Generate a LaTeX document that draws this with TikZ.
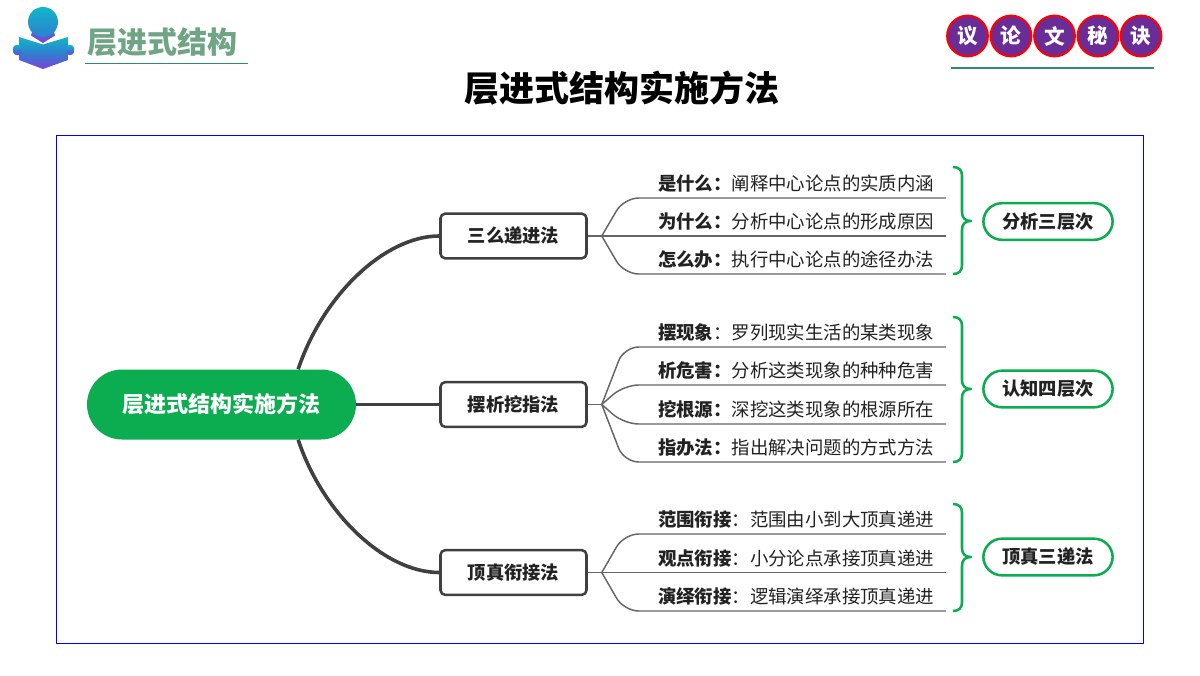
\documentclass[tikz,border=0pt]{standalone}
\usepackage{fontspec}
\usetikzlibrary{calc}
\setmainfont{Noto Sans CJK SC}
\definecolor{mmgreen}{HTML}{0BAD50}
\definecolor{trunk}{HTML}{404040}
\definecolor{twigc}{HTML}{666666}
\definecolor{titlegreen}{HTML}{6FA584}
\definecolor{seal}{HTML}{6A2C96}
\definecolor{rulegreen}{HTML}{2E8B6B}
\definecolor{lgA}{HTML}{10B6C8}
\definecolor{lgB}{HTML}{2F80D0}
\definecolor{lgC}{HTML}{7F40D8}
\definecolor{inkc}{HTML}{222222}
\tikzset{
  hubbox/.style={fill=mmgreen,text=white,rounded corners=26.25pt,minimum width=201.75pt,minimum height=52.5pt,inner sep=0pt,font=\fontsize{16.5pt}{18pt}\selectfont\bfseries},
  branchbox/.style={draw=trunk,line width=1.9pt,fill=white,text=inkc,rounded corners=3.5pt,minimum width=109.5pt,minimum height=33.5pt,inner sep=0pt,font=\fontsize{13.7pt}{16pt}\selectfont\bfseries},
  leafbox/.style={anchor=south east,text width=241.5pt,align=right,text=inkc,minimum height=21.5pt,inner xsep=0pt,inner ysep=0pt,outer sep=0pt,font=\fontsize{13.8pt}{16pt}\selectfont},
  pillbox/.style={draw=mmgreen,line width=1.9pt,fill=white,text=inkc,rounded corners=14pt,minimum width=97pt,minimum height=27.5pt,inner sep=0pt,font=\fontsize{13.7pt}{16pt}\selectfont\bfseries},
  sealnode/.style={circle,draw=red,line width=1.6pt,fill=seal,text=white,minimum size=30.5pt,inner sep=0pt,font=\fontsize{15.5pt}{17pt}\selectfont\bfseries},
  trunkline/.style={draw=trunk,line width=2.7pt},
  twig/.style={draw=twigc,line width=1.1pt,rounded corners=11pt},
  bracket/.style={draw=mmgreen,line width=1.9pt,line join=round},
  logoshade/.style={top color=lgA,bottom color=lgC,middle color=lgB,draw=none}
}
\newcommand{\leafat}[4]{\node[leafbox] (#1) at (946,#2) {\textbf{#3}#4\kern9pt};}
\newcommand{\bracketat}[3]{\draw[bracket] (953,#1) .. controls (959,#1) and (962,#1+3) .. (962,#1+9) -- (962,#2-9) .. controls (962,#2-3) and (965,#2) .. (971,#2) .. controls (965,#2) and (962,#2+3) .. (962,#2+9) -- (962,#3-9) .. controls (962,#3-3) and (959,#3) .. (953,#3);}
\begin{document}
\begin{tikzpicture}[x=0.75pt,y=-0.75pt]
\fill[white] (0,0) rectangle (1200,675);
\useasboundingbox (0,0) rectangle (1200,675);
% logo
\shade[logoshade] (43,7) -- (52,10) -- (58,22) -- (54,32) -- (55,35.5) -- (43,43) -- (31,35.5) -- (32,32) -- (28,22) -- (34,10) -- cycle;
\shade[logoshade] (19,37) -- (43,44.5) -- (68,37) -- (68,60) -- (43,69) -- (19,60) -- cycle;
\shade[logoshade,rounded corners=2.5pt] (13,45) rectangle (22,55);
\shade[logoshade,rounded corners=2.5pt] (66,45) rectangle (74,55);
\begin{scope}
\clip (0,0) rectangle (90,36);
\shade[top color=lgA,bottom color=lgB,draw=none] (43,22) circle (15);
\end{scope}
\node[text=titlegreen,font=\fontsize{22.5pt}{24pt}\selectfont\bfseries,inner sep=0pt] (brand) at (162,42) {层进式结构};
\draw[rulegreen,line width=0.75pt] (85,63) -- (248,63);
% seals
\node[sealnode] (s1) at (967.5,36) {议};
\node[sealnode] (s2) at (1011,36) {论};
\node[sealnode] (s3) at (1054.5,36) {文};
\node[sealnode] (s4) at (1098,36) {秘};
\node[sealnode] (s5) at (1141,36) {诀};
\draw[rulegreen,line width=1.5pt] (951,68) -- (1154,68);
% title
\node[font=\fontsize{26.25pt}{28pt}\selectfont\bfseries,inner sep=0pt] (title) at (621.5,88) {层进式结构实施方法};
% frame
\draw[blue,line width=0.75pt] (56.5,135.5) rectangle (1143.5,643.5);
% branches
\node[branchbox] (b1) at (513.5,236) {三么递进法};
\node[branchbox] (b2) at (513.5,404.5) {摆析挖指法};
\node[branchbox] (b3) at (513.5,572.5) {顶真衔接法};
\node[hubbox] (hub) at (221.5,404.5) {层进式结构实施方法};
\draw[trunkline] ([xshift=57.5pt]hub.north) .. controls (323,295) and (385,236) .. (b1.west);
\draw[trunkline] (hub.east) -- (b2.west);
\draw[trunkline] ([xshift=57.5pt]hub.south) .. controls (323,514) and (385,572.5) .. (b3.west);
\coordinate (r1) at ([xshift=10.5pt]b1.east);
\coordinate (r2) at ([xshift=10.5pt]b2.east);
\coordinate (r3) at ([xshift=10.5pt]b3.east);
% leaves
\leafat{a1}{198}{是什么：}{阐释中心论点的实质内涵}
\leafat{a2}{236}{为什么：}{分析中心论点的形成原因}
\leafat{a3}{274}{怎么办：}{执行中心论点的途径办法}
\leafat{c1}{347}{摆现象}{：罗列现实生活的某类现象}
\leafat{c2}{385}{析危害：}{分析这类现象的种种危害}
\leafat{c3}{424}{挖根源：}{深挖这类现象的根源所在}
\leafat{c4}{462}{指办法：}{指出解决问题的方式方法}
\leafat{e1}{534}{范围衔接}{：范围由小到大顶真递进}
\leafat{e2}{572.5}{观点衔接}{：小分论点承接顶真递进}
\leafat{e3}{611}{演绎衔接}{：逻辑演绎承接顶真递进}
\draw[twigc,line width=1.1pt] (b1.east) -- (r1);
\draw[twigc,line width=1.1pt] (b2.east) -- (r2);
\draw[twigc,line width=1.1pt] (b3.east) -- (r3);
\foreach \r/\l in {r1/a1,r1/a2,r1/a3,r2/c1,r2/c2,r2/c3,r2/c4,r3/e1,r3/e2,r3/e3}{
  \draw[twig] (\r) -- (\l.south west) -- (\l.south east);
}
% brackets
\bracketat{167}{221}{274}
\bracketat{317}{389}{462}
\bracketat{504}{557}{611}
% pills
\node[pillbox] (p1) at (1048,221.5) {分析三层次};
\node[pillbox] (p2) at (1048,389) {认知四层次};
\node[pillbox] (p3) at (1048,557) {顶真三递法};
\end{tikzpicture}
\end{document}
